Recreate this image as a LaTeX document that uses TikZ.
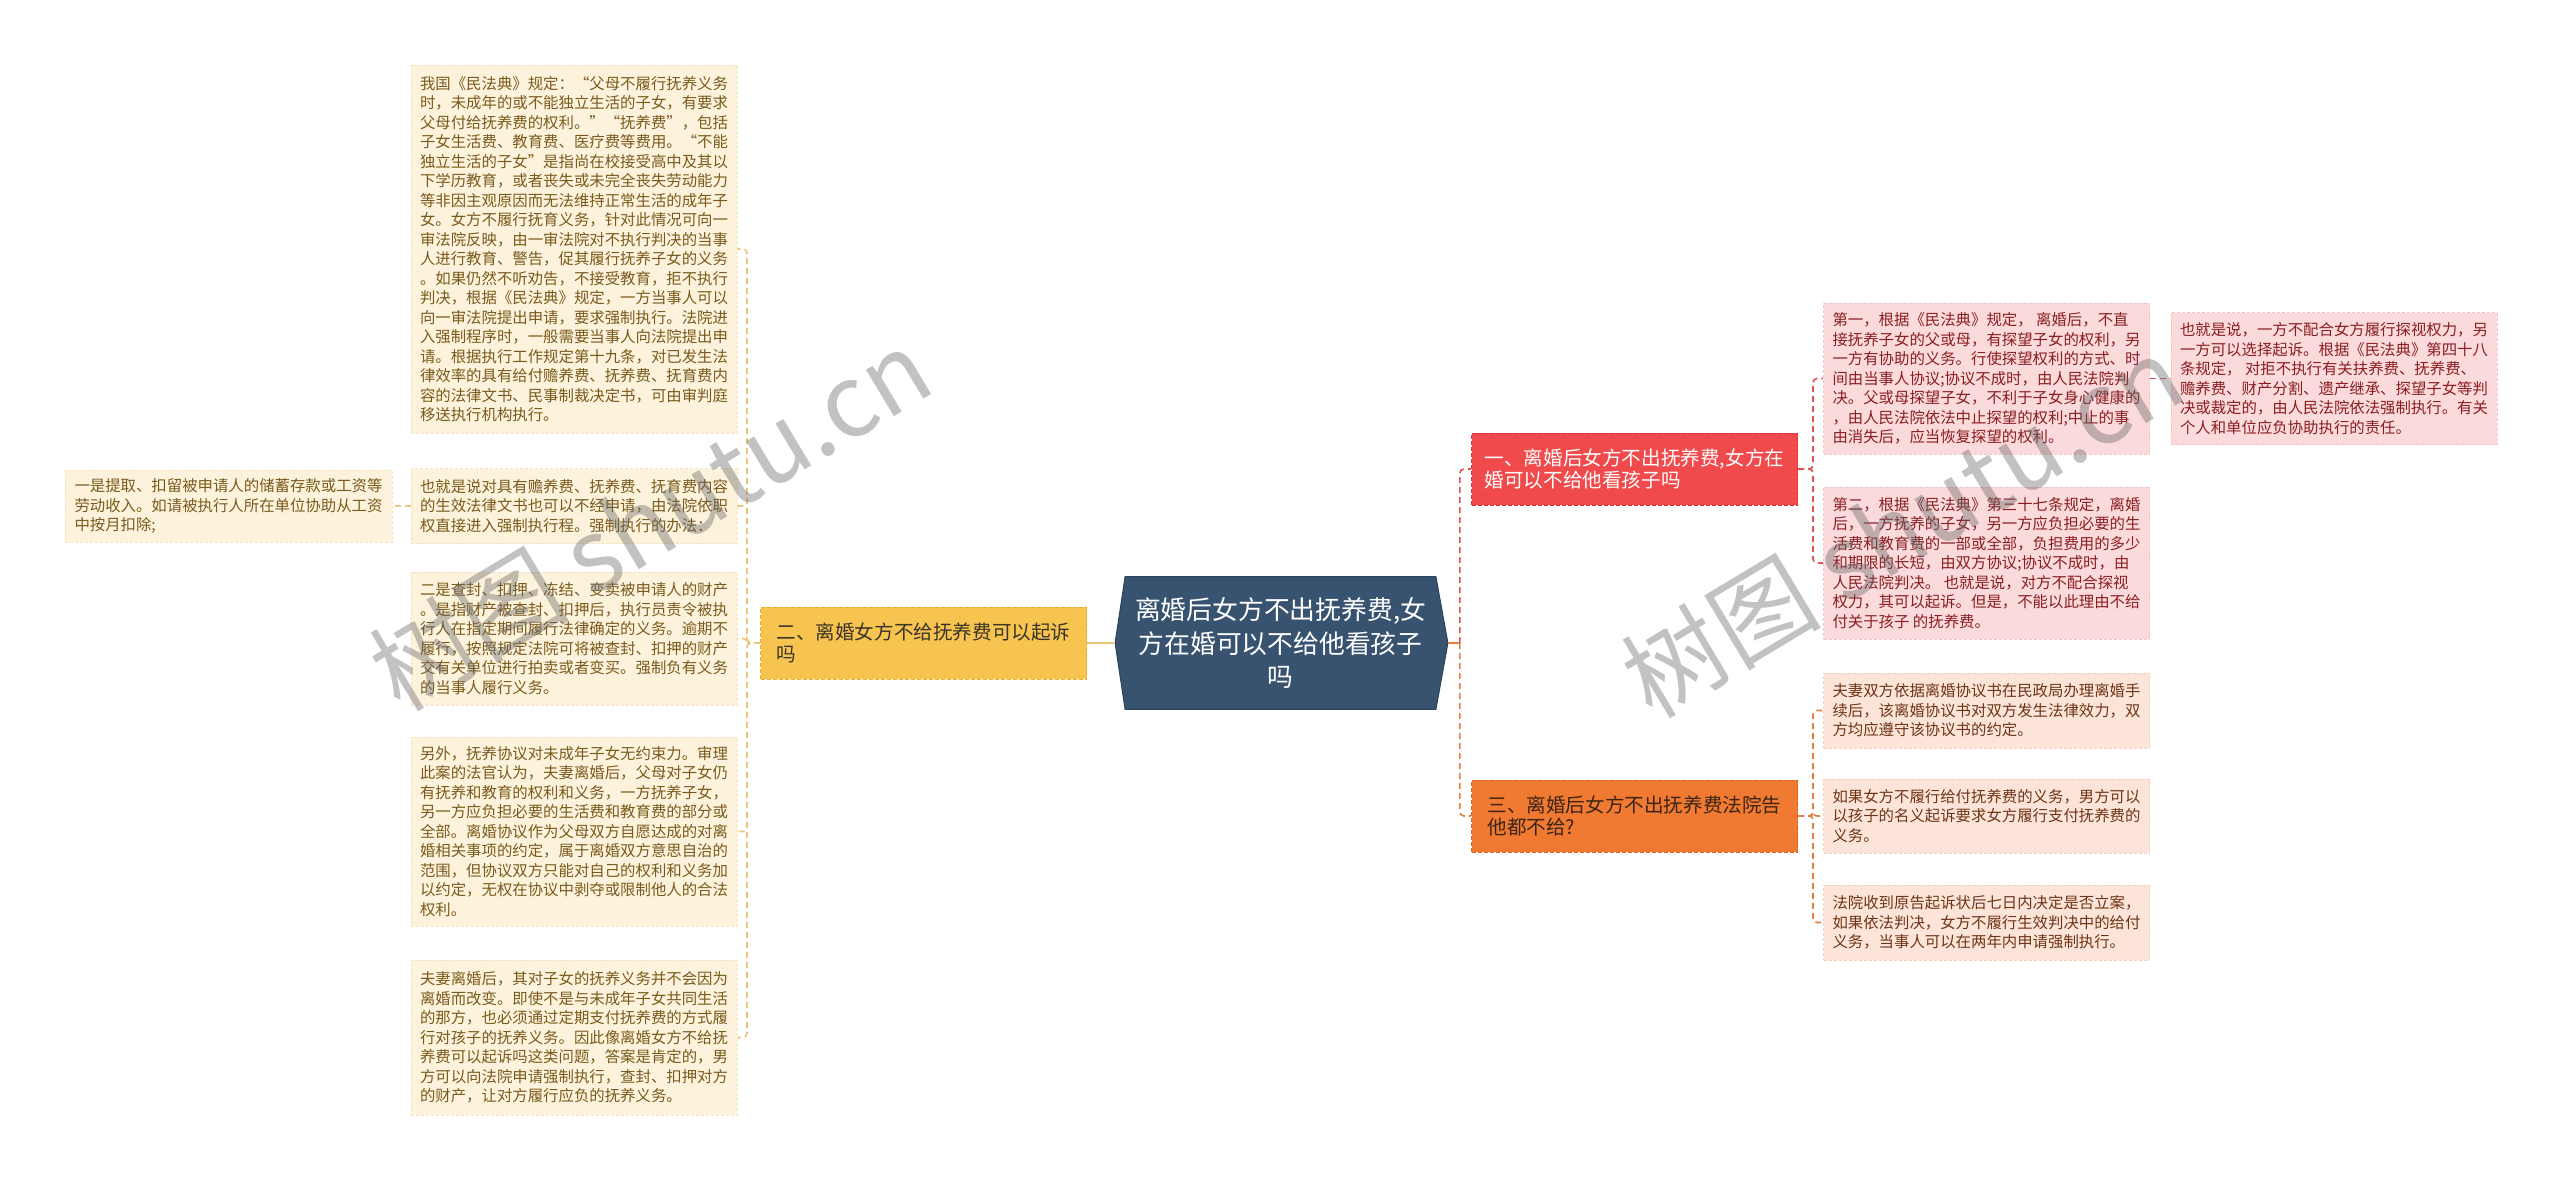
\documentclass[tikz,border=0pt]{standalone}
\usepackage{fontspec}
\newfontfamily\cjk{Noto Sans CJK SC}
\usepackage{tikz}
\usetikzlibrary{backgrounds}

\definecolor{rootblue}{HTML}{38536F}
\definecolor{rootedge}{HTML}{2C435C}
\definecolor{yellowbox}{HTML}{F7C450}
\definecolor{yellowedge}{HTML}{E6AE38}
\definecolor{redbox}{HTML}{F04A4C}
\definecolor{rededge}{HTML}{D83438}
\definecolor{orangebox}{HTML}{F07A31}
\definecolor{orangeedge}{HTML}{D9641E}
\definecolor{darktext}{HTML}{3A3428}
\definecolor{browntext}{HTML}{3C2415}
\definecolor{creamleaf}{HTML}{FDF3DD}
\definecolor{creamline}{HTML}{F3E3C0}
\definecolor{creamtext}{HTML}{7A5A1C}
\definecolor{pinkleaf}{HTML}{FBDADB}
\definecolor{pinkline}{HTML}{F2C4C6}
\definecolor{pinktext}{HTML}{8A1E22}
\definecolor{peachleaf}{HTML}{FCE5D8}
\definecolor{peachline}{HTML}{F3D0BC}
\definecolor{peachtext}{HTML}{6E3418}
\definecolor{yline}{HTML}{EBC67A}
\definecolor{rline}{HTML}{DE5253}
\definecolor{oline}{HTML}{E4803F}

\tikzset{
  leaf/.style={rectangle, align=left, inner xsep=4.5pt, inner ysep=2pt, line width=0.4pt,
    dash pattern=on 1.5pt off 1pt, font=\cjk\fontsize{7.7}{9.75}\selectfont},
  yleaf/.style={leaf, fill=creamleaf, draw=creamline, text=creamtext, minimum width=161pt},
  pleaf/.style={leaf, fill=pinkleaf, draw=pinkline, text=pinktext, minimum width=160.5pt},
  oleaf/.style={leaf, fill=peachleaf, draw=peachline, text=peachtext, minimum width=160.5pt},
  branch/.style={rectangle, align=left, inner xsep=6pt, line width=0.5pt, dash pattern=on 2pt off 1pt,
    minimum width=163pt, minimum height=36pt, font=\cjk\fontsize{9.8}{10.8}\selectfont},
  rootnode/.style={rectangle, align=center, text=white, minimum width=155pt, minimum height=66pt,
    font=\cjk\fontsize{12.9}{16.7}\selectfont},
  yconn/.style={draw=yline, line width=0.8pt, dash pattern=on 3pt off 2pt, rounded corners=2pt},
  rconn/.style={yconn, draw=rline},
  oconn/.style={yconn, draw=oline},
  wmark/.style={text=black!60, text opacity=0.4, font=\cjk\fontsize{50}{50}\selectfont}
}

\begin{document}
\begin{tikzpicture}[x=0.5pt, y=-0.5pt]
\useasboundingbox (0,0) rectangle (2560,1180);

% centre
\node[rootnode] (root) at (1280.5,643) {离婚后女方不出抚养费,女\\方在婚可以不给他看孩子\\吗};
\begin{scope}[on background layer]
\filldraw[fill=rootblue, draw=rootedge, line width=0.5pt] ([xshift=-5pt]root.west) -- (root.north west)
  -- (root.north east) -- ([xshift=6pt]root.east) -- (root.south east) -- (root.south west) -- cycle;
\end{scope}

% branches
\node[branch, fill=yellowbox, draw=yellowedge, text=darktext] (q2) at (923.5,643) {二、离婚女方不给抚养费可以起诉\\吗};
\node[branch, fill=redbox, draw=rededge, text=white] (q1) at (1634.5,469) {一、离婚后女方不出抚养费,女方在\\婚可以不给他看孩子吗};
\node[branch, fill=orangebox, draw=orangeedge, text=browntext] (q3) at (1634.5,816) {三、离婚后女方不出抚养费法院告\\他都不给?};

% left leaves
\node[yleaf, minimum height=184pt] (l1) at (574,249) {我国《民法典》规定：“父母不履行抚养义务\\时，未成年的或不能独立生活的子女，有要求\\父母付给抚养费的权利。”“抚养费”，包括\\子女生活费、教育费、医疗费等费用。“不能\\独立生活的子女”是指尚在校接受高中及其以\\下学历教育，或者丧失或未完全丧失劳动能力\\等非因主观原因而无法维持正常生活的成年子\\女。女方不履行抚育义务，针对此情况可向一\\审法院反映，由一审法院对不执行判决的当事\\人进行教育、警告，促其履行抚养子女的义务\\。如果仍然不听劝告，不接受教育，拒不执行\\判决，根据《民法典》规定，一方当事人可以\\向一审法院提出申请，要求强制执行。法院进\\入强制程序时，一般需要当事人向法院提出申\\请。根据执行工作规定第十九条，对已发生法\\律效率的具有给付赡养费、抚养费、抚育费内\\容的法律文书、民事制裁决定书，可由审判庭\\移送执行机构执行。};
\node[yleaf, minimum height=37.5pt] (l2) at (574,506) {也就是说对具有赡养费、抚养费、抚育费内容\\的生效法律文书也可以不经申请，由法院依职\\权直接进入强制执行程。强制执行的办法：};
\node[yleaf, minimum height=66.5pt] (l3) at (574,638.5) {二是查封、扣押、冻结、变卖被申请人的财产\\。是指财产被查封、扣押后，执行员责令被执\\行人在指定期间履行法律确定的义务。逾期不\\履行，按照规定法院可将被查封、扣押的财产\\交有关单位进行拍卖或者变买。强制负有义务\\的当事人履行义务。};
\node[yleaf, minimum height=94.5pt] (l4) at (574,831.5) {另外，抚养协议对未成年子女无约束力。审理\\此案的法官认为，夫妻离婚后，父母对子女仍\\有抚养和教育的权利和义务，一方抚养子女，\\另一方应负担必要的生活费和教育费的部分或\\全部。离婚协议作为父母双方自愿达成的对离\\婚相关事项的约定，属于离婚双方意思自治的\\范围，但协议双方只能对自己的权利和义务加\\以约定，无权在协议中剥夺或限制他人的合法\\权利。};
\node[yleaf, minimum height=77.5pt] (l5) at (574,1037.5) {夫妻离婚后，其对子女的抚养义务并不会因为\\离婚而改变。即使不是与未成年子女共同生活\\的那方，也必须通过定期支付抚养费的方式履\\行对孩子的抚养义务。因此像离婚女方不给抚\\养费可以起诉吗这类问题，答案是肯定的，男\\方可以向法院申请强制执行，查封、扣押对方\\的财产，让对方履行应负的抚养义务。};
\node[yleaf, minimum width=163.5pt, minimum height=36pt] (ll) at (228.5,506) {一是提取、扣留被申请人的储蓄存款或工资等\\劳动收入。如请被执行人所在单位协助从工资\\中按月扣除;};

% right leaves
\node[pleaf, minimum height=75.5pt] (r1a) at (1986.5,378.5) {第一，根据《民法典》规定， 离婚后，不直\\接抚养子女的父或母，有探望子女的权利，另\\一方有协助的义务。行使探望权利的方式、时\\间由当事人协议;协议不成时，由人民法院判\\决。父或母探望子女，不利于子女身心健康的\\，由人民法院依法中止探望的权利;中止的事\\由消失后，应当恢复探望的权利。};
\node[pleaf, minimum height=76pt] (r1b) at (1986.5,563) {第二，根据《民法典》第三十七条规定，离婚\\后，一方抚养的子女，另一方应负担必要的生\\活费和教育费的一部或全部，负担费用的多少\\和期限的长短，由双方协议;协议不成时，由\\人民法院判决。 也就是说，对方不配合探视\\权力，其可以起诉。但是，不能以此理由不给\\付关于孩子 的抚养费。};
\node[pleaf, minimum width=160pt, minimum height=66pt] (rr) at (2334,378.5) {也就是说，一方不配合女方履行探视权力，另\\一方可以选择起诉。根据《民法典》第四十八\\条规定， 对拒不执行有关扶养费、抚养费、\\赡养费、财产分割、遗产继承、探望子女等判\\决或裁定的，由人民法院依法强制执行。有关\\个人和单位应负协助执行的责任。};
\node[oleaf, minimum height=37.5pt] (r3a) at (1986.5,710.5) {夫妻双方依据离婚协议书在民政局办理离婚手\\续后，该离婚协议书对双方发生法律效力，双\\方均应遵守该协议书的约定。};
\node[oleaf, minimum height=37pt] (r3b) at (1986.5,816) {如果女方不履行给付抚养费的义务，男方可以\\以孩子的名义起诉要求女方履行支付抚养费的\\义务。};
\node[oleaf, minimum height=37.5pt] (r3c) at (1986.5,922.5) {法院收到原告起诉状后七日内决定是否立案，\\如果依法判决，女方不履行生效判决中的给付\\义务，当事人可以在两年内申请强制执行。};

% connectors
\draw[yline, line width=0.8pt] ([xshift=-5pt]root.west) -- (q2.east);
\foreach \leaf in {l1,l2,l3,l4,l5}
  \draw[yconn] (q2.west) -- ++(-13,0) |- (\leaf.east);
\draw[yconn] (l2.west) -- (ll.east);

\draw[oline, line width=0.8pt] ([xshift=6pt]root.east) -- ++(12,0) coordinate (fork);
\draw[rconn] (fork) |- (q1.west);
\draw[oconn] (fork) |- (q3.west);
\foreach \leaf in {r1a,r1b}
  \draw[rconn] (q1.east) -- ++(15,0) |- (\leaf.west);
\draw[rconn] (r1a.east) -- (rr.west);
\foreach \leaf in {r3a,r3b,r3c}
  \draw[oconn] (q3.east) -- ++(15,0) |- (\leaf.west);

% watermarks
\node[wmark, rotate=31] (wm1) at (650,519) {树图 shutu.cn};
\node[wmark, rotate=31] (wm2) at (1902,526) {树图 shutu.cn};
\end{tikzpicture}
\end{document}
